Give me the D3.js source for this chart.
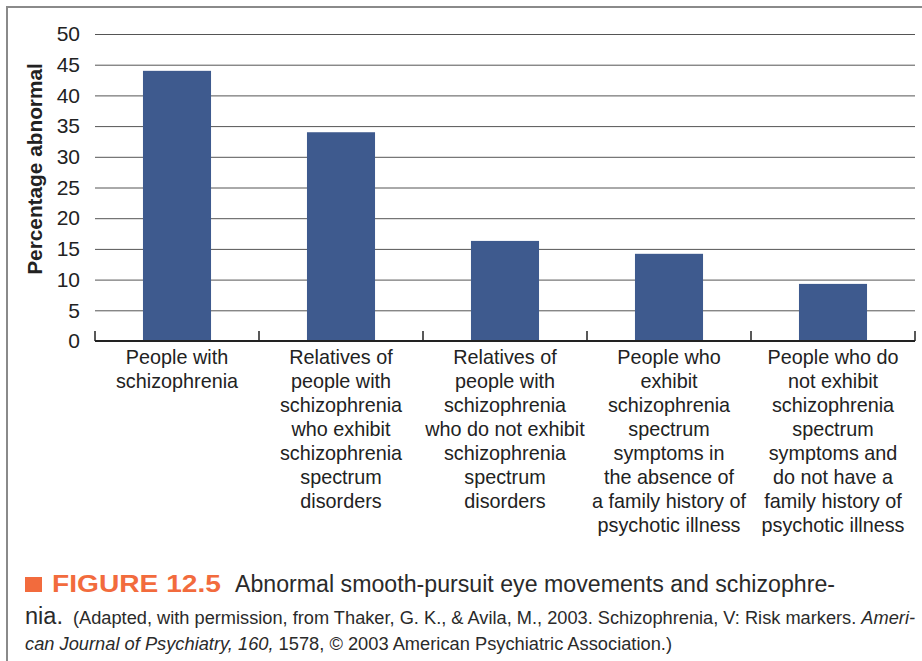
<!DOCTYPE html>
<html>
<head>
<meta charset="utf-8">
<script src="https://cdn.jsdelivr.net/npm/d3@7"></script>
<style>
  html, body { margin: 0; padding: 0; background: #fff; }
  svg { display: block; font-family: "Liberation Sans", Arial, Helvetica, sans-serif; }
</style>
</head>
<body>
<svg id="chart" width="922" height="661"></svg>
<script>
// Groups compared and the share of each group showing abnormal eye tracking
const categories = [
  ["People with", "schizophrenia"],
  ["Relatives of", "people with", "schizophrenia", "who exhibit", "schizophrenia", "spectrum", "disorders"],
  ["Relatives of", "people with", "schizophrenia", "who do not exhibit", "schizophrenia", "spectrum", "disorders"],
  ["People who", "exhibit", "schizophrenia", "spectrum", "symptoms in", "the absence of", "a family history of", "psychotic illness"],
  ["People who do", "not exhibit", "schizophrenia", "spectrum", "symptoms and", "do not have a", "family history of", "psychotic illness"]
];
const percentAbnormal = [44, 34, 16.3, 14.2, 9.3];
const yTicks = [0, 5, 10, 15, 20, 25, 30, 35, 40, 45, 50];
const yTitle = "Percentage abnormal";

const svg = d3.select("#chart");
const plot = { left: 95, right: 915, top: 34, bottom: 341 };

// Figure frame (left and top rules)
svg.append("path")
  .attr("d", "M7,661 V7 H922")
  .attr("fill", "none")
  .attr("stroke", "#8a8a8a")
  .attr("stroke-width", 2);

const x = d3.scaleBand()
  .domain(d3.range(categories.length))
  .range([plot.left, plot.right])
  .paddingInner(0.585)
  .paddingOuter(0.2925);

const y = d3.scaleLinear()
  .domain([0, 50])
  .range([plot.bottom, plot.top]);

// Horizontal gridlines with value labels
const yAxis = svg.append("g")
  .attr("transform", `translate(${plot.left},0)`)
  .call(d3.axisLeft(y).tickValues(yTicks).tickSize(0).tickPadding(15)
    .tickSizeInner(-(plot.right - plot.left)));
yAxis.select(".domain").remove();
yAxis.selectAll(".tick line")
  .attr("stroke", d => d === 0 ? "none" : "#555")
  .attr("stroke-width", 1);
yAxis.selectAll(".tick text")
  .attr("font-size", 21)
  .attr("fill", "#222")
  .attr("font-family", "'Liberation Sans', Arial, sans-serif");

// Bars
svg.append("g")
  .selectAll("rect")
  .data(percentAbnormal)
  .join("rect")
  .attr("x", (d, i) => x(i))
  .attr("y", d => y(d))
  .attr("width", x.bandwidth())
  .attr("height", d => y(0) - y(d))
  .attr("fill", "#3e5a8e");

// Baseline and category boundary ticks
const step = x.step();
const bounds = d3.range(categories.length + 1).map(i => plot.left + i * step);
svg.append("line")
  .attr("x1", plot.left).attr("x2", plot.right)
  .attr("y1", y(0)).attr("y2", y(0))
  .attr("stroke", "#222").attr("stroke-width", 2);
svg.append("g")
  .selectAll("line")
  .data(bounds)
  .join("line")
  .attr("x1", d => d).attr("x2", d => d)
  .attr("y1", y(0)).attr("y2", y(0) - 10)
  .attr("stroke", "#222").attr("stroke-width", 1.5);

// Category labels, one tspan per line
const labels = svg.append("g")
  .selectAll("text")
  .data(categories)
  .join("text")
  .attr("text-anchor", "middle")
  .attr("font-size", 19.8)
  .attr("fill", "#222")
  .attr("transform", (d, i) => `translate(${x(i) + x.bandwidth() / 2},364)`);
labels.selectAll("tspan")
  .data(d => d)
  .join("tspan")
  .attr("x", 0)
  .attr("y", (d, j) => j * 24)
  .text(d => d);

// Y-axis title
svg.append("text")
  .attr("transform", "translate(42,169) rotate(-90)")
  .attr("text-anchor", "middle")
  .attr("font-size", 20.8)
  .attr("font-weight", "bold")
  .attr("fill", "#222")
  .text(yTitle);

// Figure caption
const cap = svg.append("g").attr("fill", "#2a2a2a");
cap.append("rect")
  .attr("x", 25).attr("y", 577).attr("width", 17).attr("height", 15)
  .attr("fill", "#f26b3d");
cap.append("text")
  .attr("x", 52).attr("y", 592)
  .attr("font-size", 24).attr("font-weight", "bold").attr("fill", "#f26b3d")
  .attr("textLength", 169).attr("lengthAdjust", "spacingAndGlyphs")
  .text("FIGURE 12.5");
cap.append("text")
  .attr("x", 235).attr("y", 592)
  .attr("font-size", 23)
  .attr("textLength", 600).attr("lengthAdjust", "spacingAndGlyphs")
  .text("Abnormal smooth-pursuit eye movements and schizophre-");
cap.append("text")
  .attr("x", 25).attr("y", 624)
  .attr("font-size", 23)
  .attr("textLength", 38).attr("lengthAdjust", "spacingAndGlyphs")
  .text("nia.");
const src = cap.append("text")
  .attr("x", 73).attr("y", 624)
  .attr("font-size", 17.5)
  .attr("textLength", 842).attr("lengthAdjust", "spacingAndGlyphs");
src.append("tspan").text("(Adapted, with permission, from Thaker, G. K., & Avila, M., 2003. Schizophrenia, V: Risk markers. ");
src.append("tspan").attr("font-style", "italic").text("Ameri-");
const src2 = cap.append("text")
  .attr("x", 25).attr("y", 650)
  .attr("font-size", 17.5)
  .attr("textLength", 647).attr("lengthAdjust", "spacingAndGlyphs");
src2.append("tspan").attr("font-style", "italic").text("can Journal of Psychiatry, 160,");
src2.append("tspan").text(" 1578, \u00A9 2003 American Psychiatric Association.)");
</script>
</body>
</html>
